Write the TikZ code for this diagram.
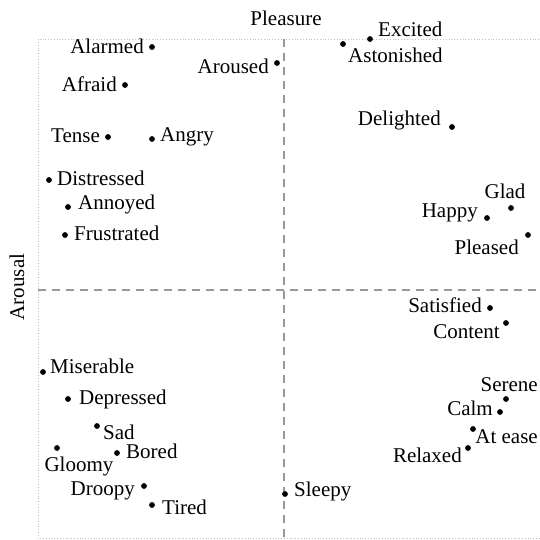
\documentclass[tikz,border=0pt]{standalone}
\usepackage{fontspec}
\setmainfont{Liberation Serif}
\begin{document}
\begin{tikzpicture}[x=1pt,y=-1pt,
  dot/.style={circle,fill=black,inner sep=0pt,minimum size=5.8pt},
  lbl/.style={inner sep=0pt,font=\fontsize{21}{24}\selectfont},
  frame/.style={gray!50,line width=0.8pt,dotted},
  axis/.style={gray!80,line width=1.1pt,dash pattern=on 8pt off 6pt}]
\useasboundingbox (0,0) rectangle (539,540);
% outer dotted frame (open to the right)
\coordinate (ftr) at (539,39);
\coordinate (ftl) at (38,39);
\coordinate (fbl) at (38,538);
\coordinate (fbr) at (539,538);
\draw[frame] (ftr) -- (ftl) -- (fbl) -- (fbr);
% quadrant axes
\coordinate (vt) at (284,39);
\coordinate (vb) at (284,538);
\coordinate (hl) at (38,290);
\coordinate (hr) at (539,290);
\draw[axis] (vt) -- (vb);
\draw[axis] (hl) -- (hr);
% axis titles
\node[lbl] (pleasure) at (286,18) {Pleasure};
\node[lbl,rotate=90] (arousal) at (17,287) {Arousal};
% upper left quadrant
\node[dot] (alarmed) at (152,47) {};
\node[lbl,anchor=east] (alarmedT) at (144,46) {Alarmed};
\node[dot] (aroused) at (277,63) {};
\node[lbl,anchor=east] (arousedT) at (269,66) {Aroused};
\node[dot] (afraid) at (125,85) {};
\node[lbl,anchor=east] (afraidT) at (117,84) {Afraid};
\node[dot] (tense) at (108,137) {};
\node[lbl,anchor=east] (tenseT) at (100,136) {Tense};
\node[dot] (angry) at (152,139) {};
\node[lbl,anchor=west] (angryT) at (160,137) {Angry};
\node[dot] (distressed) at (49,180) {};
\node[lbl,anchor=west] (distressedT) at (57,178) {Distressed};
\node[dot] (annoyed) at (68,207) {};
\node[lbl,anchor=west] (annoyedT) at (78,204) {Annoyed};
\node[dot] (frustrated) at (65,235) {};
\node[lbl,anchor=west] (frustratedT) at (74,233) {Frustrated};
% upper right quadrant
\node[dot] (excited) at (370,39) {};
\node[lbl,anchor=west] (excitedT) at (378,29) {Excited};
\node[dot] (astonished) at (343,44) {};
\node[lbl,anchor=west] (astonishedT) at (348,55) {Astonished};
\node[dot] (delighted) at (452,127) {};
\node[lbl,anchor=east] (delightedT) at (441,120) {Delighted};
\node[dot] (glad) at (511,208) {};
\node[lbl] (gladT) at (505,191) {Glad};
\node[dot] (happy) at (487,218) {};
\node[lbl,anchor=east] (happyT) at (478,213) {Happy};
\node[dot] (pleased) at (528,235) {};
\node[lbl,anchor=east] (pleasedT) at (519,247) {Pleased};
% lower right quadrant
\node[dot] (satisfied) at (490,308) {};
\node[lbl,anchor=east] (satisfiedT) at (482,305) {Satisfied};
\node[dot] (content) at (506,323) {};
\node[lbl,anchor=east] (contentT) at (500,332) {Content};
\node[dot] (serene) at (506,399) {};
\node[lbl,anchor=east] (sereneT) at (538,385) {Serene};
\node[dot] (calm) at (500,412) {};
\node[lbl,anchor=east] (calmT) at (493,408) {Calm};
\node[dot] (atease) at (473,429) {};
\node[lbl,anchor=east] (ateaseT) at (538,437) {At ease};
\node[dot] (relaxed) at (468,448) {};
\node[lbl,anchor=east] (relaxedT) at (462,455) {Relaxed};
\node[dot] (sleepy) at (285,494) {};
\node[lbl,anchor=west] (sleepyT) at (294,491) {Sleepy};
% lower left quadrant
\node[dot] (miserable) at (43,372) {};
\node[lbl,anchor=west] (miserableT) at (50,366) {Miserable};
\node[dot] (depressed) at (68,399) {};
\node[lbl,anchor=west] (depressedT) at (79,399) {Depressed};
\node[dot] (sad) at (97,426) {};
\node[lbl,anchor=west] (sadT) at (103,432) {Sad};
\node[dot] (gloomy) at (57,448) {};
\node[lbl] (gloomyT) at (79,466) {Gloomy};
\node[dot] (bored) at (117,453) {};
\node[lbl,anchor=west] (boredT) at (126,451) {Bored};
\node[dot] (droopy) at (144,486) {};
\node[lbl,anchor=east] (droopyT) at (135,491) {Droopy};
\node[dot] (tired) at (152,505) {};
\node[lbl,anchor=west] (tiredT) at (162,507) {Tired};
\end{tikzpicture}
\end{document}
